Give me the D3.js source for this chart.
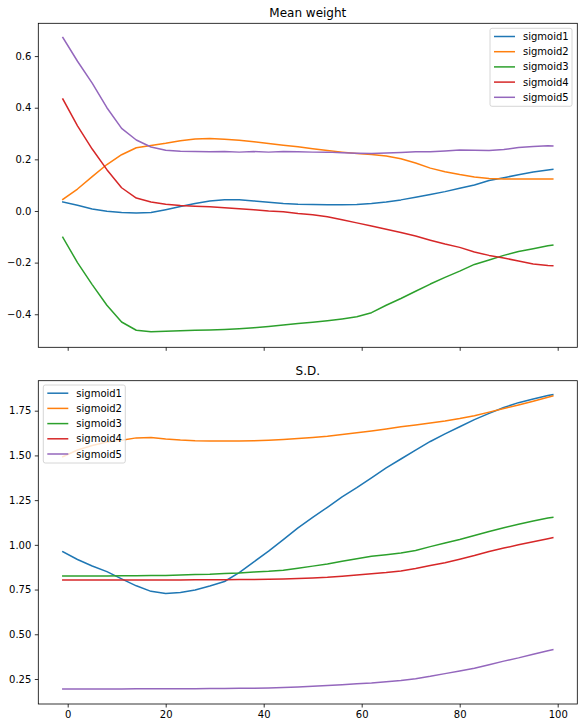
<!DOCTYPE html>
<html>
<head>
<meta charset="utf-8">
<script src="https://cdn.jsdelivr.net/npm/d3@7"></script>
<style>
  body { margin: 0; background: #fff; }
  text { font-family: "DejaVu Sans", sans-serif; }
</style>
</head>
<body>
<div id="canvas"></div>
<script>
var w = 584;
var h = 728;

// x values (epochs)
var epochs = [-1, 2, 5, 8, 11, 14, 17, 20, 23, 26, 29, 32, 35, 38, 41, 44, 47, 50,
              53, 56, 59, 62, 65, 68, 71, 74, 77, 80, 83, 86, 89, 92, 95, 98, 99];

var seriesNames = ["sigmoid1", "sigmoid2", "sigmoid3", "sigmoid4", "sigmoid5"];
var colors = ["#1f77b4", "#ff7f0e", "#2ca02c", "#d62728", "#9467bd"];

// Mean weight
var meanSig1 = [0.035, 0.022, 0.008, -0.001, -0.006, -0.008, -0.006, 0.005, 0.017, 0.029, 0.039, 0.044,
                0.044, 0.039, 0.034, 0.029, 0.026, 0.025, 0.024, 0.024, 0.025, 0.029, 0.035, 0.043,
                0.053, 0.064, 0.075, 0.088, 0.101, 0.118, 0.129, 0.140, 0.151, 0.159, 0.161];
var meanSig2 = [0.045, 0.085, 0.133, 0.180, 0.218, 0.245, 0.254, 0.262, 0.272, 0.279, 0.281, 0.278,
                0.274, 0.268, 0.261, 0.255, 0.249, 0.241, 0.234, 0.228, 0.223, 0.219, 0.213, 0.202,
                0.186, 0.166, 0.152, 0.141, 0.132, 0.126, 0.124, 0.124, 0.124, 0.124, 0.124];
var meanSig3 = [-0.102, -0.200, -0.285, -0.365, -0.430, -0.462, -0.468, -0.466, -0.464, -0.462, -0.461, -0.459,
                -0.456, -0.452, -0.447, -0.442, -0.436, -0.431, -0.425, -0.418, -0.410, -0.394, -0.365, -0.339,
                -0.311, -0.283, -0.257, -0.233, -0.207, -0.190, -0.172, -0.157, -0.146, -0.135, -0.132];
var meanSig4 = [0.434, 0.330, 0.240, 0.160, 0.090, 0.050, 0.035, 0.026, 0.021, 0.018, 0.016, 0.013,
                0.009, 0.005, 0.000, -0.003, -0.010, -0.015, -0.022, -0.034, -0.046, -0.058, -0.071, -0.083,
                -0.097, -0.113, -0.128, -0.141, -0.159, -0.172, -0.182, -0.194, -0.205, -0.211, -0.212];
var meanSig5 = [0.672, 0.580, 0.495, 0.400, 0.320, 0.275, 0.248, 0.235, 0.231, 0.230, 0.229, 0.230,
                0.228, 0.230, 0.228, 0.230, 0.229, 0.228, 0.228, 0.226, 0.224, 0.223, 0.225, 0.227,
                0.229, 0.229, 0.232, 0.236, 0.235, 0.234, 0.238, 0.246, 0.250, 0.253, 0.252];

// S.D.
var sdSig1 = [0.962, 0.918, 0.882, 0.850, 0.810, 0.771, 0.740, 0.728, 0.734, 0.748, 0.770, 0.795,
              0.845, 0.905, 0.965, 1.029, 1.095, 1.153, 1.210, 1.268, 1.320, 1.375, 1.430, 1.480,
              1.530, 1.578, 1.620, 1.660, 1.700, 1.735, 1.768, 1.795, 1.815, 1.835, 1.840];
var sdSig2 = [1.493, 1.530, 1.555, 1.575, 1.585, 1.598, 1.600, 1.592, 1.586, 1.582, 1.581, 1.580,
              1.580, 1.582, 1.585, 1.589, 1.594, 1.600, 1.607, 1.617, 1.627, 1.637, 1.648, 1.660,
              1.670, 1.681, 1.692, 1.706, 1.722, 1.742, 1.762, 1.782, 1.803, 1.825, 1.832];
var sdSig3 = [0.826, 0.826, 0.826, 0.826, 0.827, 0.827, 0.828, 0.829, 0.831, 0.834, 0.836, 0.840,
              0.843, 0.848, 0.852, 0.858, 0.869, 0.881, 0.893, 0.908, 0.922, 0.936, 0.945, 0.955,
              0.968, 0.990, 1.010, 1.030, 1.052, 1.075, 1.095, 1.115, 1.133, 1.150, 1.154];
var sdSig4 = [0.803, 0.803, 0.803, 0.803, 0.803, 0.803, 0.804, 0.804, 0.804, 0.805, 0.805, 0.805,
              0.806, 0.806, 0.807, 0.809, 0.812, 0.815, 0.819, 0.825, 0.832, 0.838, 0.845, 0.854,
              0.868, 0.884, 0.900, 0.920, 0.940, 0.963, 0.982, 1.000, 1.017, 1.034, 1.040];
var sdSig5 = [0.194, 0.194, 0.194, 0.194, 0.194, 0.195, 0.195, 0.195, 0.196, 0.196, 0.197, 0.197,
              0.198, 0.198, 0.200, 0.202, 0.205, 0.209, 0.213, 0.218, 0.223, 0.228, 0.235, 0.242,
              0.252, 0.265, 0.280, 0.295, 0.310, 0.330, 0.350, 0.368, 0.388, 0.408, 0.414];

// tick labels
var epochTicks = [0, 20, 40, 60, 80, 100];
var meanTicks = [-0.4, -0.2, 0.0, 0.2, 0.4, 0.6];
var sdTicks = [0.25, 0.50, 0.75, 1.00, 1.25, 1.50, 1.75];

var svg = d3.select("#canvas").append("svg")
            .attr("width", w)
            .attr("height", h);

var left = 38.3, right = 577.3;

var xScale = d3.scaleLinear()
               .domain([-6, 104])
               .range([left, right]);

function drawPanel(opts) {
    var yScale = d3.scaleLinear()
                   .domain(opts.yDomain)
                   .range([opts.bottom, opts.top]);

    var g = svg.append("g");

    // lines
    var line = d3.line()
                 .x(function(d) { return xScale(d[0]); })
                 .y(function(d) { return yScale(d[1]); });

    opts.series.forEach(function(vals, i) {
        g.append("path")
         .datum(epochs.map(function(e, j) { return [e, vals[j]]; }))
         .attr("d", line)
         .attr("fill", "none")
         .attr("stroke", colors[i])
         .attr("stroke-width", 1.5)
         .attr("stroke-linejoin", "round")
         .attr("stroke-linecap", "square");
    });

    // axes
    var yAxis = d3.axisLeft(yScale)
                  .tickValues(opts.yTicks)
                  .tickFormat(d3.format(opts.yFormat))
                  .tickSize(3.5)
                  .tickPadding(3.5);
    var ya = g.append("g")
              .attr("transform", "translate(" + left + ",0)")
              .call(yAxis);

    var xAxis = d3.axisBottom(xScale)
                  .tickValues(epochTicks)
                  .tickSize(3.5)
                  .tickPadding(3.5)
                  .tickFormat(opts.xLabels ? d3.format("d") : "");
    var xa = g.append("g")
              .attr("transform", "translate(0," + opts.bottom + ")")
              .call(xAxis);

    [ya, xa].forEach(function(a) {
        a.select(".domain").remove();
        a.selectAll(".tick line").attr("stroke", "#000").attr("stroke-width", 0.8);
        a.selectAll(".tick text")
         .attr("fill", "#000")
         .style("font-size", "10px")
         .style("font-family", "DejaVu Sans, sans-serif");
    });

    // frame
    g.append("rect")
     .attr("x", left)
     .attr("y", opts.top)
     .attr("width", right - left)
     .attr("height", opts.bottom - opts.top)
     .attr("fill", "none")
     .attr("stroke", "#000")
     .attr("stroke-width", 0.8);

    // title
    g.append("text")
     .attr("x", (left + right) / 2)
     .attr("y", opts.top - 6)
     .attr("text-anchor", "middle")
     .style("font-size", "12px")
     .text(opts.title);

    // legend
    var lg = g.append("g")
              .attr("transform", "translate(" + opts.legendX + "," + opts.legendY + ")");
    lg.append("rect")
      .attr("width", 82)
      .attr("height", 78)
      .attr("rx", 2)
      .attr("fill", "#fff")
      .attr("fill-opacity", 0.8)
      .attr("stroke", "#ccc")
      .attr("stroke-width", 0.8);
    seriesNames.forEach(function(name, i) {
        var yy = 8.2 + i * 15.2;
        lg.append("line")
          .attr("x1", 4).attr("x2", 25)
          .attr("y1", yy).attr("y2", yy)
          .attr("stroke", colors[i])
          .attr("stroke-width", 1.5);
        lg.append("text")
          .attr("x", 33)
          .attr("y", yy + 3.6)
          .style("font-size", "10px")
          .text(name);
    });
}

drawPanel({
    title: "Mean weight",
    top: 23.3, bottom: 347.3,
    yDomain: [-0.528, 0.727],
    yTicks: meanTicks,
    yFormat: ".1f",
    xLabels: false,
    series: [meanSig1, meanSig2, meanSig3, meanSig4, meanSig5],
    legendX: 490, legendY: 28.3
});

drawPanel({
    title: "S.D.",
    top: 380.7, bottom: 704,
    yDomain: [0.1102, 1.9177],
    yTicks: sdTicks,
    yFormat: ".2f",
    xLabels: true,
    series: [sdSig1, sdSig2, sdSig3, sdSig4, sdSig5],
    legendX: 43.3, legendY: 385
});
</script>
</body>
</html>
